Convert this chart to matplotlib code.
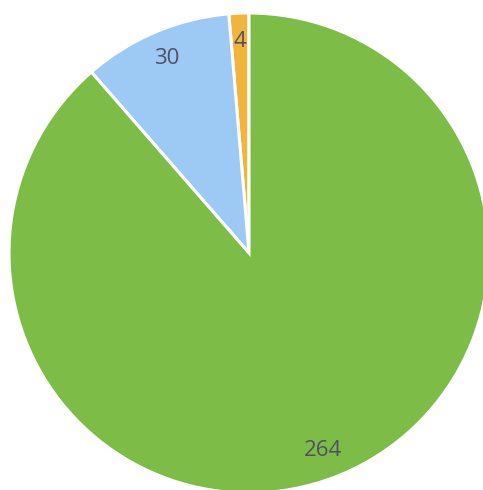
import matplotlib
matplotlib.use("Agg")
import matplotlib.pyplot as plt

# slice values, in drawing order (counter-clockwise from 12 o'clock)
values = [4, 30, 264]
colors = ["#f3b43c", "#9ccaf5", "#7dbd47"]

total = sum(values)

fig = plt.figure(figsize=(4.83, 4.90), dpi=100)
ax = fig.add_axes([0, 0, 1, 1])

wedges, texts, autotexts = ax.pie(
    values,
    colors=colors,
    startangle=90,
    counterclock=True,
    radius=1.0,
    autopct=lambda p: f"{round(p * total / 100)}",
    pctdistance=0.88,
    wedgeprops=dict(edgecolor="white", linewidth=2.2),
    textprops=dict(color="#4f5160", fontsize=16, family=["Open Sans", "DejaVu Sans"]),
)

# pie centre sits at (249, 253) px, radius ~240 px
ax.set_xlim(-249 / 240, (483 - 249) / 240)
ax.set_ylim(-(490 - 253) / 240, 253 / 240)
ax.set_aspect("auto")
ax.axis("off")

fig.savefig("out.png", dpi=100, facecolor="white")
